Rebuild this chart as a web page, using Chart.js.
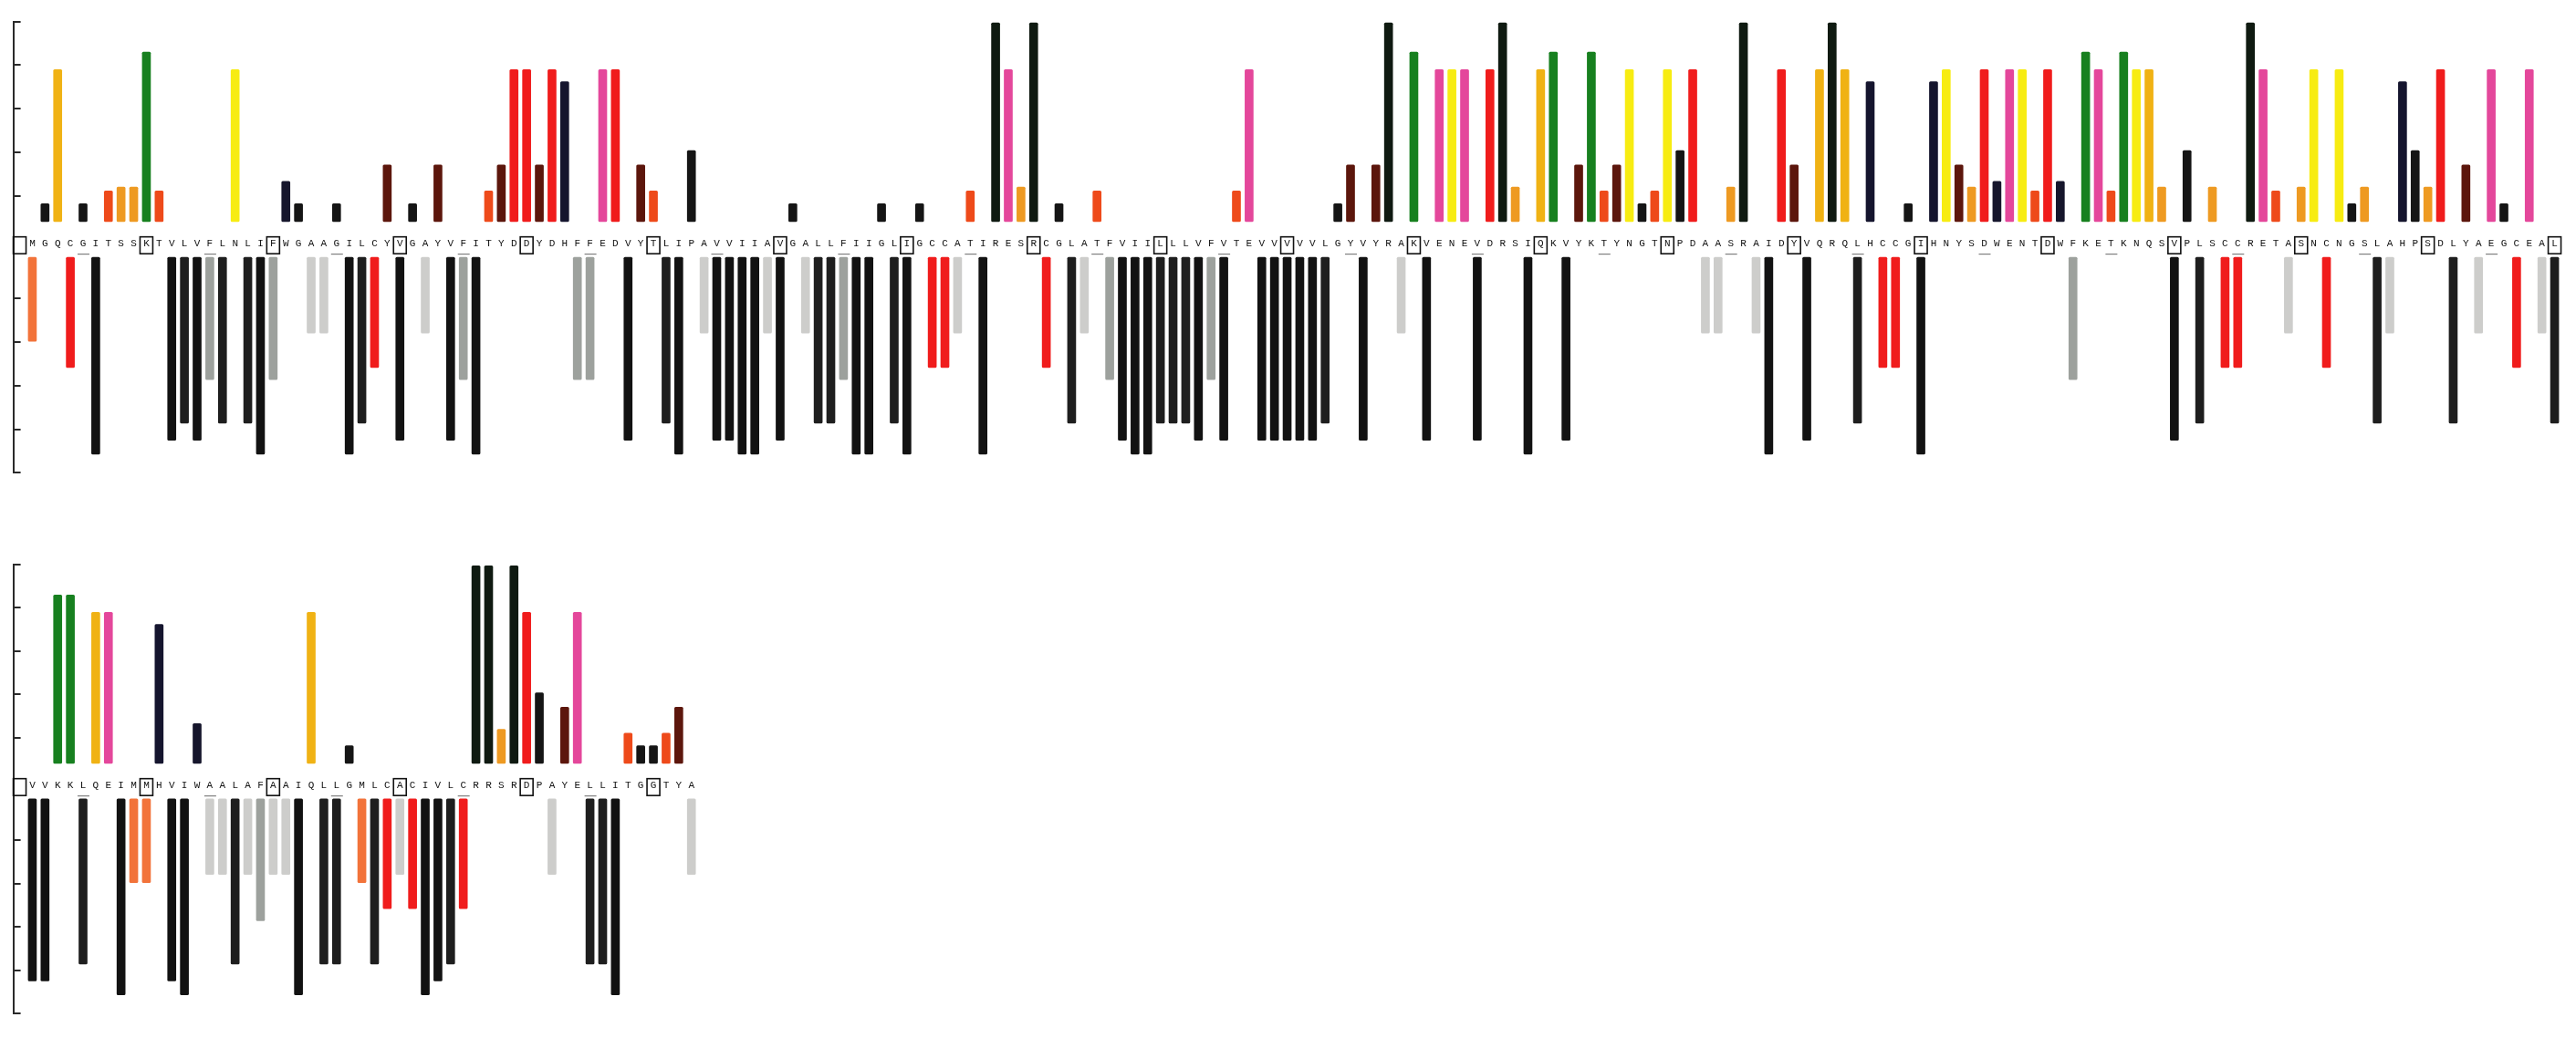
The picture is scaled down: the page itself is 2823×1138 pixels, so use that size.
<!DOCTYPE html>
<html>
<head>
<meta charset="utf-8">
<script src="https://cdn.jsdelivr.net/npm/chart.js@4.4.1/dist/chart.umd.min.js"></script>
<style>
  html, body { margin: 0; padding: 0; background: #fff; }
  body { width: 2823px; height: 1138px; position: relative; overflow: hidden; }
  canvas { position: absolute; left: 0; }
  #row1 { top: 0; }
  #row2 { top: 560px; }
</style>
</head>
<body>
<canvas id="row1" width="2823" height="560"></canvas>
<canvas id="row2" width="2823" height="578"></canvas>
<script>
// -----------------------------
// Sequence (200 residues on the first line, the rest on the second)
// -----------------------------
const row1Sequence =
  "MGQCGITSSK" + "TVLVFLNLIF" + "WGAAGILCYV" + "GAYVFITYDD" + "YDHFFEDVYT" +
  "LIPAVVIIAV" + "GALLFIIGLI" + "GCCATIRESR" + "CGLATFVIIL" + "LLVFVTEVVV" +
  "VVLGYVYRAK" + "VENEVDRSIQ" + "KVYKTYNGTN" + "PDAASRAIDY" + "VQRQLHCCGI" +
  "HNYSDWENTD" + "WFKETKNQSV" + "PLSCCRETAS" + "NCNGSLAHPS" + "DLYAEGCEAL";
const row2Sequence =
  "VVKKLQEIMM" + "HVIWAALAFA" + "AIQLLGMLCA" + "CIVLCRRSRD" + "PAYELLITGG" + "TYA";

// -----------------------------
// Bar per amino acid: upper bar height and lower bar depth (in axis tick units)
// -----------------------------
const aminoAcids  = ["A", "C", "D", "E", "F", "G", "H", "I", "K", "L", "M", "N", "P", "Q", "R", "S", "T", "V", "W", "Y"];
const upperHeight = [0, 0, 3.49, 3.49, 0, 0.41, 3.21, 0, 3.89, 0, 0, 3.49, 1.63, 3.49, 4.56, 0.79, 0.70, 0, 0.92, 1.30];
const upperColor  = [null, null, "#f01c1c", "#e4479b", null, "#151515", "#15152e", null, "#17801f", null,
                     null, "#f7ec12", "#151515", "#f0b214", "#0f1a11", "#ee9a22", "#ee4a1a", null, "#16162c", "#5c160c"];
const lowerDepth  = [1.79, 2.58, 0, 0, 2.86, 0, 0, 4.57, 0, 3.86, 1.98, 0, 0, 0, 0, 0, 0, 4.25, 0, 0];
const lowerColor  = ["#cdcdcb", "#f01c1c", null, null, "#9da19d", null, null, "#121212", null, "#1e1e1e",
                     "#f2733a", null, null, null, null, null, null, "#121212", null, null];

// axis ticks (upper block and lower block)
const upperTicks = [1.36, 2.36, 3.36, 4.36, 5.36];
const lowerTicks = [-1, -2, -3, -4, -5];
const upperBase = 0.77;
const lowerBase = -0.05;
const labelLevel = 0.41;
const SLOTS = 201;

// -----------------------------
// Helpers
// -----------------------------
function buildRow(seq) {
  const labels = [""];
  const up = [null], upCol = ["#fff"], low = [null], lowCol = ["#fff"];
  for (let i = 0; i < SLOTS - 1; i++) {
    const aa = seq[i];
    labels.push(aa || "");
    const k = aa ? aminoAcids.indexOf(aa) : -1;
    if (k >= 0 && upperHeight[k] > 0) {
      up.push([upperBase, upperBase + upperHeight[k]]);
      upCol.push(upperColor[k]);
    } else { up.push(null); upCol.push("#fff"); }
    if (k >= 0 && lowerDepth[k] > 0) {
      low.push([lowerBase, -lowerDepth[k]]);
      lowCol.push(lowerColor[k]);
    } else { low.push(null); lowCol.push("#fff"); }
  }
  return { labels, up, upCol, low, lowCol, count: seq.length };
}

// boxes on every 10th residue, short underline on every 5th
const residueMarks = {
  id: "residueMarks",
  afterDraw(chart, args, opts) {
    const xs = chart.scales.x, ys = chart.scales.y, ctx = chart.ctx;
    const cy = ys.getPixelForValue(labelLevel) + 6.6;
    ctx.save();
    for (let i = 0; i <= opts.count; i++) {
      const x = xs.getPixelForValue(i);
      if (i % 10 === 0) {
        ctx.strokeStyle = "#111";
        ctx.lineWidth = 1.6;
        ctx.strokeRect(x - 7, cy - 7, 14, 18.5);
      } else if (i % 5 === 0) {
        ctx.strokeStyle = "#666";
        ctx.lineWidth = 1;
        ctx.beginPath();
        ctx.moveTo(x - 6, cy + 12);
        ctx.lineTo(x + 7, cy + 12);
        ctx.stroke();
      }
    }
    ctx.restore();
  }
};

function drawRow(canvasId, seq, padTop, padBottom) {
  const row = buildRow(seq);
  return new Chart(document.getElementById(canvasId), {
    type: "bar",
    data: {
      labels: row.labels,
      datasets: [
        { label: "upper", data: row.up, backgroundColor: row.upCol, grouped: false,
          barThickness: 9, borderRadius: 1.5, borderSkipped: false },
        { label: "lower", data: row.low, backgroundColor: row.lowCol, grouped: false,
          barThickness: 9, borderRadius: 1.5, borderSkipped: false }
      ]
    },
    options: {
      responsive: false,
      animation: false,
      devicePixelRatio: 1,
      layout: { padding: { left: 14.6, right: 16.5, top: padTop, bottom: padBottom } },
      plugins: {
        legend: { display: false },
        tooltip: { enabled: false },
        residueMarks: { count: row.count }
      },
      scales: {
        x: {
          type: "category",
          position: { y: labelLevel },
          offset: true,
          border: { display: false },
          grid: { display: false, drawTicks: false },
          ticks: {
            autoSkip: false, maxRotation: 0, minRotation: 0, padding: 0,
            color: "#111",
            font: { family: "Liberation Mono", size: 11 }
          }
        },
        y: {
          type: "linear",
          position: "left",
          min: -5,
          max: 5.36,
          afterFit: (scale) => { scale.width = 0; },
          afterBuildTicks: (scale) => {
            scale.ticks = lowerTicks.concat(upperTicks).map(v => ({ value: v }));
          },
          border: { display: true, color: "#2a2a2a", width: 2 },
          grid: { display: true, drawOnChartArea: false, drawTicks: true, tickLength: -8,
                  color: "#2a2a2a", lineWidth: 2 },
          ticks: { display: false }
        }
      }
    },
    plugins: [residueMarks]
  });
}

drawRow("row1", row1Sequence, 23.7, 41.6);
drawRow("row2", row2Sequence, 59, 27);
</script>
</body>
</html>
